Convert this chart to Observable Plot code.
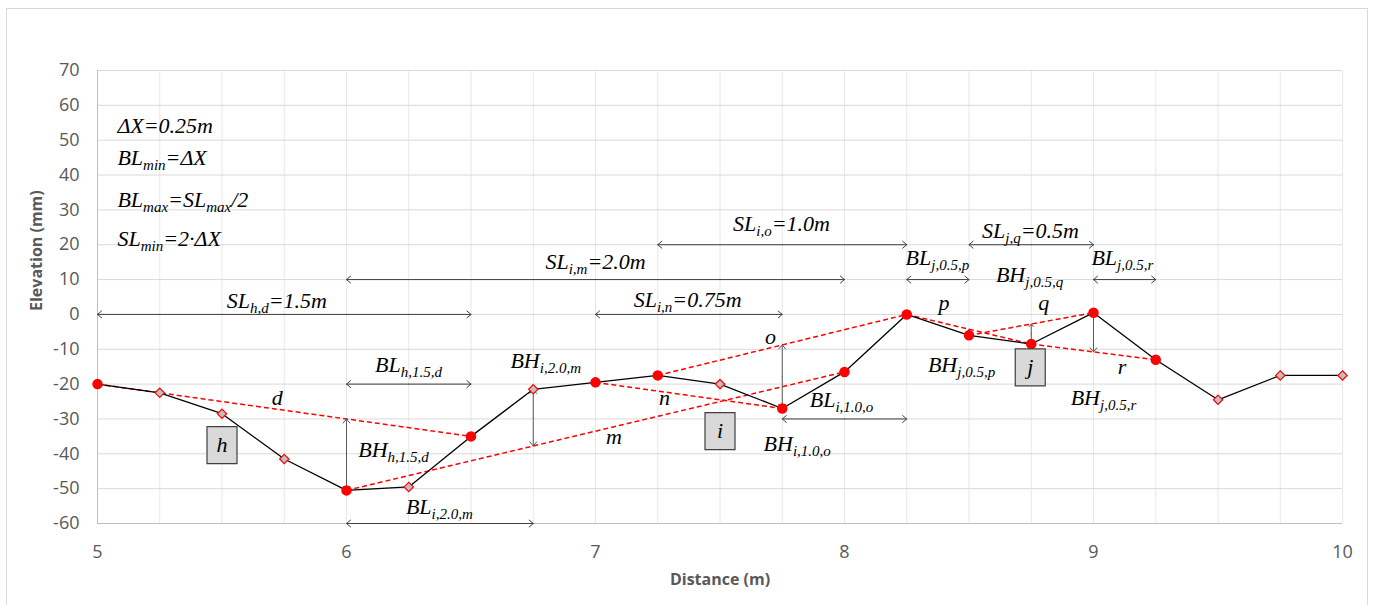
<!DOCTYPE html>
<html>
<head>
<meta charset="utf-8">
<script src="https://cdn.jsdelivr.net/npm/d3@7"></script>
<script src="https://cdn.jsdelivr.net/npm/@observablehq/plot@0.6"></script>
<style>
  body { margin: 0; background: #fff; }
  #wrap { position: relative; width: 1373px; height: 605px; overflow: hidden; }
  #border { position: absolute; left: 6px; top: 8px; width: 1360px; height: 620px; border: 1px solid #d9d9d9; pointer-events: none; }
</style>
</head>
<body>
<div id="wrap"><div id="chart"></div><div id="border"></div></div>
<script>
// ---- profile data ----
const distance  = [5, 5.25, 5.5, 5.75, 6, 6.25, 6.5, 6.75, 7, 7.25, 7.5, 7.75, 8, 8.25, 8.5, 8.75, 9, 9.25, 9.5, 9.75, 10];
const elevation = [-20, -22.5, -28.5, -41.5, -50.5, -49.5, -35, -21.5, -19.5, -17.5, -20, -27, -16.5, 0, -6, -8.5, 0.5, -13, -24.5, -17.5, -17.5];
const breakpoints = [5, 6, 6.5, 7, 7.25, 7.75, 8, 8.25, 8.5, 8.75, 9, 9.25];

// ---- dashed segments ----
const segNames = ["d", "m", "n", "o", "p", "q", "r"];
const segStart = [5, 6, 7, 7.25, 8.25, 8.5, 8.75];
const segEnd   = [6.5, 8, 7.75, 8.25, 8.75, 9, 9.25];

// ---- BH (vertical) arrows: location and segment ----
const bhX   = [6, 6.75, 7.75, 8.5, 8.75, 9];
const bhSeg = ["d", "m", "o", "p", "q", "r"];

// ---- SL / BL (horizontal) arrows ----
const spanY    = [0, 10, 20, 0, 20, 10, 10, -20, -60, -30];
const spanFrom = [5, 6, 7.25, 7, 8.5, 8.25, 9, 6, 6, 7.75];
const spanTo   = [6.5, 8, 8.25, 7.75, 9, 8.5, 9.25, 6.5, 6.75, 8.25];

// ---- annotation labels ----
const noteText = ["ΔX=0.25m", "BL_{min}=ΔX", "BL_{max}=SL_{max}/2", "SL_{min}=2·ΔX"];
const noteX = [5.08, 5.08, 5.08, 5.08];
const noteY = [54.1, 44.8, 32.8, 21.8];

const labelText = ["SL_{h,d}=1.5m", "SL_{i,m}=2.0m", "SL_{i,o}=1.0m", "SL_{i,n}=0.75m", "SL_{j,q}=0.5m",
  "BL_{j,0.5,p}", "BL_{j,0.5,r}", "BH_{j,0.5,q}", "BH_{j,0.5,p}", "BH_{j,0.5,r}",
  "BL_{h,1.5,d}", "BH_{i,2.0,m}", "BH_{h,1.5,d}", "BL_{i,2.0,m}", "BL_{i,1.0,o}", "BH_{i,1.0,o}",
  "d", "m", "n", "o", "p", "q", "r"];
const labelX = [5.72, 7.0, 7.747, 7.37, 8.747,
  8.373, 9.116, 8.743, 8.47, 9.04,
  6.249, 6.80, 6.189, 6.373, 7.988, 7.81,
  5.722, 7.074, 7.277, 7.703, 8.40, 8.80, 9.115];
const labelY = [4.0, 15.1, 26.1, 4.1, 23.9,
  16.1, 16.1, 11.3, -14.6, -23.9,
  -14.6, -13.3, -39.0, -55.3, -24.6, -37.3,
  -24.1, -35.1, -24.1, -6.4, 3.2, 3.2, -15.0];

const boxText = ["h", "i", "j"];
const boxX = [5.5, 7.5, 8.746];
const boxY = [-37.5, -33.5, -15.2];

// ---- axes ----
const xTicks = [5, 6, 7, 8, 9, 10];
const yTicks = [-60, -50, -40, -30, -20, -10, 0, 10, 20, 30, 40, 50, 60, 70];
const xGrid = [5, 5.25, 5.5, 5.75, 6, 6.25, 6.5, 6.75, 7, 7.25, 7.5, 7.75, 8, 8.25, 8.5, 8.75, 9, 9.25, 9.5, 9.75, 10];

// ---- build tables ----
const elevAt = (x) => elevation[distance.indexOf(x)];
const profile = distance.map((x, i) => ({x, y: elevation[i], key: breakpoints.includes(x)}));
const segments = segNames.map((n, i) => ({name: n, x1: segStart[i], y1: elevAt(segStart[i]), x2: segEnd[i], y2: elevAt(segEnd[i])}));
const segAt = (name, x) => {
  const s = segments.find(d => d.name === name);
  return s.y1 + (s.y2 - s.y1) * (x - s.x1) / (s.x2 - s.x1);
};
const bh = bhX.map((x, i) => ({x, ya: elevAt(x), yb: segAt(bhSeg[i], x)}));
const bhHalves = bh.flatMap(d => {
  const m = (d.ya + d.yb) / 2;
  return [{x: d.x, y1: m, y2: d.ya}, {x: d.x, y1: m, y2: d.yb}];
});
const spans = spanY.map((y, i) => ({y, x1: spanFrom[i], x2: spanTo[i]}));
const spanHalves = spans.flatMap(d => {
  const m = (d.x1 + d.x2) / 2;
  return [{y: d.y, x1: m, x2: d.x1}, {y: d.y, x1: m, x2: d.x2}];
});
const notes = noteText.map((t, i) => ({t, x: noteX[i], y: noteY[i]}));
const labels = labelText.map((t, i) => ({t, x: labelX[i], y: labelY[i]}));
const boxes = boxText.map((t, i) => ({t, x: boxX[i], y: boxY[i]}));

const serif = "'Liberation Serif', 'DejaVu Serif', serif";
const boxSymbol = {draw(ctx) { ctx.rect(-15, -18.5, 30, 37); }};

const plot = Plot.plot({
  width: 1373,
  height: 605,
  marginLeft: 97,
  marginRight: 31,
  marginTop: 70,
  marginBottom: 82,
  style: {fontFamily: "'Open Sans', sans-serif", fontSize: "18px", color: "#595959", background: "white"},
  x: {domain: [5, 10], ticks: xTicks, tickSize: 0, tickPadding: 22, label: null, tickFormat: d => String(d)},
  y: {domain: [-60, 70], ticks: yTicks, tickSize: 0, tickPadding: 18, label: null, tickFormat: d => String(d)},
  marks: [
    Plot.ruleX(xGrid, {stroke: "#e8e8e8", strokeWidth: 1}),
    Plot.ruleY(yTicks, {stroke: "#d9d9d9", strokeWidth: 1}),
    Plot.ruleX([5], {stroke: "#bfbfbf", strokeWidth: 1}),
    Plot.ruleY([-60], {stroke: "#bfbfbf", strokeWidth: 1}),
    Plot.link(segments, {x1: "x1", y1: "y1", x2: "x2", y2: "y2", stroke: "#ff0000", strokeWidth: 1.5, strokeDasharray: "5,3"}),
    Plot.line(profile, {x: "x", y: "y", stroke: "#000", strokeWidth: 1.3}),
    Plot.arrow(spanHalves, {x1: "x1", x2: "x2", y1: "y", y2: "y", stroke: "#404040", strokeWidth: 1, headLength: 8, headAngle: 80}),
    Plot.arrow(bhHalves, {x1: "x", x2: "x", y1: "y1", y2: "y2", stroke: "#595959", strokeWidth: 1, headLength: 8, headAngle: 80}),
    Plot.dot(profile.filter(d => d.key), {x: "x", y: "y", r: 4.5, fill: "#ff0000", stroke: "#ff0000"}),
    Plot.dot(profile.filter(d => !d.key), {x: "x", y: "y", r: 4.2, symbol: "diamond2", fill: "#bfbfbf", stroke: "#ff0000", strokeWidth: 1.2}),
    Plot.dot(boxes, {x: "x", y: "y", symbol: boxSymbol, fill: "#d9d9d9", stroke: "#404040", strokeWidth: 1.2}),
    Plot.text(boxes, {x: "x", y: "y", text: "t", fontFamily: serif, fontStyle: "italic", fontSize: 22, fill: "#000"}),
    Plot.text(notes, {x: "x", y: "y", text: "t", textAnchor: "start", fontFamily: serif, fontStyle: "italic", fontSize: 22, fill: "#000"}),
    Plot.text(labels, {x: "x", y: "y", text: "t", textAnchor: "middle", fontFamily: serif, fontStyle: "italic", fontSize: 22, fill: "#000"}),
    Plot.text(["Elevation (mm)"], {frameAnchor: "left", dx: -61, dy: 14, rotate: -90, fontWeight: "bold", fontSize: 16, fill: "#595959"}),
    Plot.text(["Distance (m)"], {frameAnchor: "bottom", dy: 61, fontWeight: "bold", fontSize: 16, fill: "#595959"})
  ]
});

// Rebuild labels with subscripts
const SUB_SIZE = 15, SHIFT = 5;
d3.select(plot).selectAll("text").each(function() {
  const txt = this.textContent;
  if (!txt.includes("_{")) return;
  const sel = d3.select(this);
  sel.text(null);
  const re = /_\{([^}]*)\}|([^_]+)/g;
  let m, shifted = false;
  while ((m = re.exec(txt)) !== null) {
    if (m[1] !== undefined) {
      sel.append("tspan").attr("font-size", SUB_SIZE).attr("dy", shifted ? 0 : SHIFT).text(m[1]);
      shifted = true;
    } else {
      sel.append("tspan").attr("dy", shifted ? -SHIFT : 0).text(m[2]);
      shifted = false;
    }
  }
});

document.getElementById("chart").appendChild(plot);
</script>
</body>
</html>
